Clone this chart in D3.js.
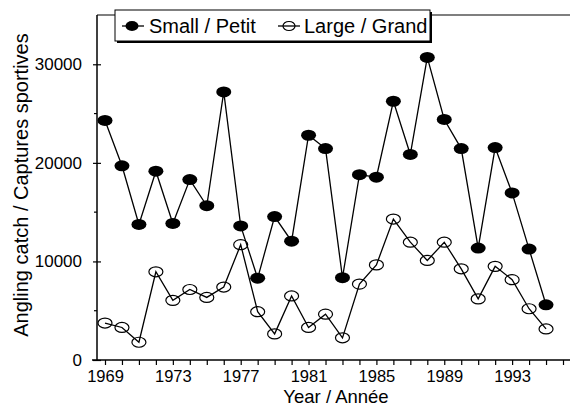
<!DOCTYPE html>
<html>
<head>
<meta charset="utf-8">
<script src="https://cdn.jsdelivr.net/npm/d3@7"></script>
<style>
  body { margin: 0; background: #fff; }
  svg { font-family: "Liberation Sans", Arial, sans-serif; }
</style>
</head>
<body>
<div class="chart"></div>
<script>
// data
var years = d3.range(1969, 1996);
var small = [24300, 19700, 13750, 19150, 13850, 18300, 15650, 27200, 13600, 8300,
             14550, 12050, 22800, 21450, 8350, 18800, 18550, 26250, 20850, 30700,
             24400, 21450, 11350, 21550, 16950, 11250, 5600];
var large = [3750, 3300, 1800, 8950, 6050, 7150, 6350, 7400, 11700, 4900,
             2650, 6500, 3300, 4650, 2250, 7700, 9650, 14300, 11950, 10100,
             11950, 9250, 6200, 9500, 8150, 5200, 3150];
var yearTicks = d3.range(1969, 1997);
var yearLabels = [1969, 1973, 1977, 1981, 1985, 1989, 1993];
var yMajor = [0, 10000, 20000, 30000];
var yMinor = [5000, 15000, 25000];
var seriesNames = ["Small / Petit", "Large / Grand"];

var width = 570, height = 407;

var svg = d3.select(".chart")
    .append("svg")
    .attr("width", width)
    .attr("height", height);

var x = d3.scaleLinear().domain([1969, 1996]).range([105, 563]);
var y = d3.scaleLinear().domain([0, 35000]).range([360, 15]);

// x axis
var xAxis = svg.append("g")
    .attr("transform", "translate(0,360)")
    .call(d3.axisBottom(x)
        .tickValues(yearTicks)
        .tickSize(5)
        .tickPadding(5)
        .tickFormat(function(d) { return yearLabels.indexOf(d) >= 0 ? d : ""; }));
xAxis.select(".domain").remove();
xAxis.selectAll("line").attr("stroke", "#000").attr("stroke-width", 1.2);
xAxis.selectAll("text").attr("font-size", 16.5).attr("font-family", "Liberation Sans, Arial, sans-serif");

svg.append("line")
    .attr("x1", 92).attr("x2", 570)
    .attr("y1", 360).attr("y2", 360)
    .attr("stroke", "#000").attr("stroke-width", 1.5);

// y axis
var yAxis = svg.append("g")
    .attr("transform", "translate(97,0)")
    .call(d3.axisLeft(y)
        .tickValues(yMajor)
        .tickSize(4)
        .tickPadding(11)
        .tickFormat(d3.format("d")));
yAxis.select(".domain").remove();
yAxis.selectAll(".tick line").attr("x2", -4).attr("x1", 4).attr("stroke", "#000").attr("stroke-width", 1.2);
yAxis.selectAll("text").attr("font-size", 17).attr("font-family", "Liberation Sans, Arial, sans-serif");

svg.append("g")
    .selectAll("line")
    .data(yMinor)
    .enter().append("line")
    .attr("x1", 94).attr("x2", 97)
    .attr("y1", function(d) { return y(d); })
    .attr("y2", function(d) { return y(d); })
    .attr("stroke", "#000").attr("stroke-width", 1.2);

svg.append("line")
    .attr("x1", 97).attr("x2", 97)
    .attr("y1", 15).attr("y2", 360)
    .attr("stroke", "#000").attr("stroke-width", 1.5);

// top frame line
svg.append("line")
    .attr("x1", 97).attr("x2", 570)
    .attr("y1", 15).attr("y2", 15)
    .attr("stroke", "#000").attr("stroke-width", 1.2);

// axis titles
svg.append("text")
    .attr("x", 336)
    .attr("y", 403)
    .attr("text-anchor", "middle")
    .attr("font-size", 18.5)
    .text("Year / Année");

svg.append("text")
    .attr("transform", "translate(28,185)rotate(-90)")
    .attr("text-anchor", "middle")
    .attr("font-size", 20)
    .text("Angling catch / Captures sportives");

// lines
var line = d3.line()
    .x(function(d, i) { return x(years[i]); })
    .y(function(d) { return y(d); });

svg.append("path").datum(large)
    .attr("d", line)
    .attr("fill", "none").attr("stroke", "#000").attr("stroke-width", 1.3);
svg.append("path").datum(small)
    .attr("d", line)
    .attr("fill", "none").attr("stroke", "#000").attr("stroke-width", 1.3);

// markers
svg.append("g").selectAll("ellipse")
    .data(large)
    .enter().append("ellipse")
    .attr("cx", function(d, i) { return x(years[i]); })
    .attr("cy", function(d) { return y(d); })
    .attr("rx", 7).attr("ry", 5)
    .attr("fill", "none").attr("stroke", "#000").attr("stroke-width", 1.2);

svg.append("g").selectAll("ellipse")
    .data(small)
    .enter().append("ellipse")
    .attr("cx", function(d, i) { return x(years[i]); })
    .attr("cy", function(d) { return y(d); })
    .attr("rx", 7.5).attr("ry", 5.5)
    .attr("fill", "#000");

// legend
var legend = svg.append("g");
legend.append("rect")
    .attr("x", 117).attr("y", 12)
    .attr("width", 315).attr("height", 31)
    .attr("fill", "#000");
legend.append("rect")
    .attr("x", 115).attr("y", 10)
    .attr("width", 315).attr("height", 31)
    .attr("fill", "#fff").attr("stroke", "#000").attr("stroke-width", 1);

legend.append("line")
    .attr("x1", 122).attr("x2", 144).attr("y1", 26).attr("y2", 26)
    .attr("stroke", "#000").attr("stroke-width", 1.3);
legend.append("ellipse")
    .attr("cx", 132).attr("cy", 26).attr("rx", 6.5).attr("ry", 5)
    .attr("fill", "#000");
legend.append("text")
    .attr("x", 149).attr("y", 33)
    .attr("font-size", 20)
    .text(seriesNames[0]);

legend.append("line")
    .attr("x1", 278).attr("x2", 300).attr("y1", 26).attr("y2", 26)
    .attr("stroke", "#000").attr("stroke-width", 1.3);
legend.append("ellipse")
    .attr("cx", 289).attr("cy", 26).attr("rx", 6).attr("ry", 4.5)
    .attr("fill", "none").attr("stroke", "#000").attr("stroke-width", 1.2);
legend.append("text")
    .attr("x", 304).attr("y", 33)
    .attr("font-size", 20)
    .text(seriesNames[1]);
</script>
</body>
</html>
